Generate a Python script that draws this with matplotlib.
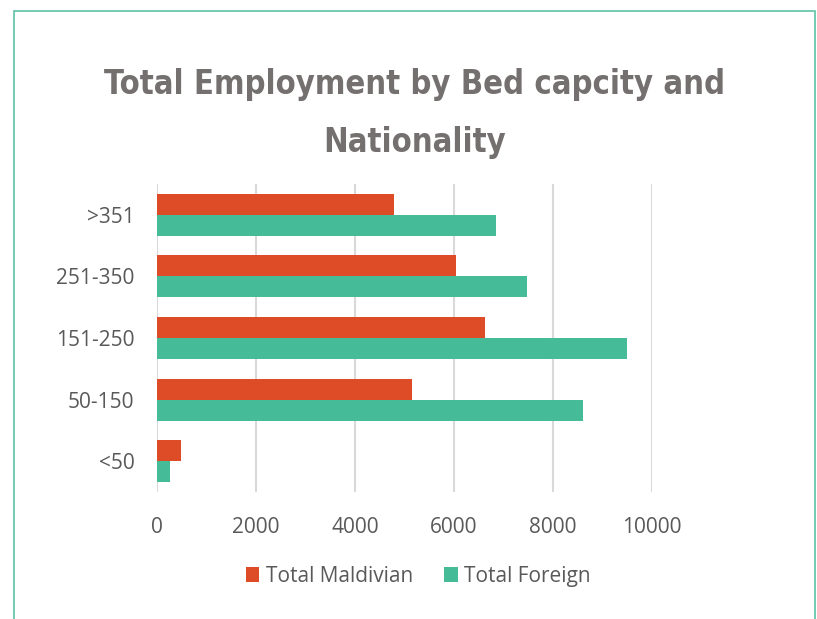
import matplotlib.pyplot as plt
import numpy as np
from matplotlib.patches import Rectangle

categories = ['<50', '50-150', '151-250', '251-350', '>351']
maldivian = [500, 5150, 6630, 6050, 4790]
foreign = [265, 8600, 9500, 7470, 6850]
xticks = [0, 2000, 4000, 6000, 8000, 10000]

c_mal = '#DD4C27'
c_for = '#46BB98'
txt = '#595959'

fig = plt.figure(figsize=(8.17, 6.19), dpi=100)
ax = fig.add_axes([0.1918, 0.2052, 0.6063, 0.4975])

y = np.arange(len(categories))
h = 0.34
ax.barh(y + h / 2, maldivian, height=h, color=c_mal, label='Total Maldivian', zorder=3)
ax.barh(y - h / 2, foreign, height=h, color=c_for, label='Total Foreign', zorder=3)

ax.set_xlim(0, 10000)
ax.set_ylim(-0.5, 4.5)
ax.set_xticks(xticks)
ax.set_xticklabels([str(t) for t in xticks], fontsize=15, color=txt, family='Open Sans')
ax.set_yticks(y)
ax.set_yticklabels(categories, fontsize=15, color=txt, family='Open Sans')
ax.tick_params(axis='x', length=0, pad=18)
ax.tick_params(axis='y', length=0, pad=16)
for s in ax.spines.values():
    s.set_visible(False)
ax.grid(axis='x', color='#d9d9d9', linewidth=1.5, zorder=0)

fig.text(0.507, 0.817, 'Total Employment by Bed capcity and\nNationality',
         ha='center', va='center', fontsize=23.5, fontweight='bold', color='#757070',
         family='DejaVu Sans', fontstretch='condensed', linespacing=1.95)

leg = fig.legend(loc='center', bbox_to_anchor=(0.512, 0.069), ncol=2, frameon=False,
                 prop={'family': 'Open Sans', 'size': 15}, handlelength=0.67,
                 handleheight=0.67, handletextpad=0.3, columnspacing=1.5)
for t in leg.get_texts():
    t.set_color(txt)

fig.patches.append(Rectangle((0.0171, -0.05), 0.9805, 1.032, transform=fig.transFigure,
                             fill=False, edgecolor='#5cc3a6', linewidth=1.2))

plt.savefig('out.png', dpi=100)
